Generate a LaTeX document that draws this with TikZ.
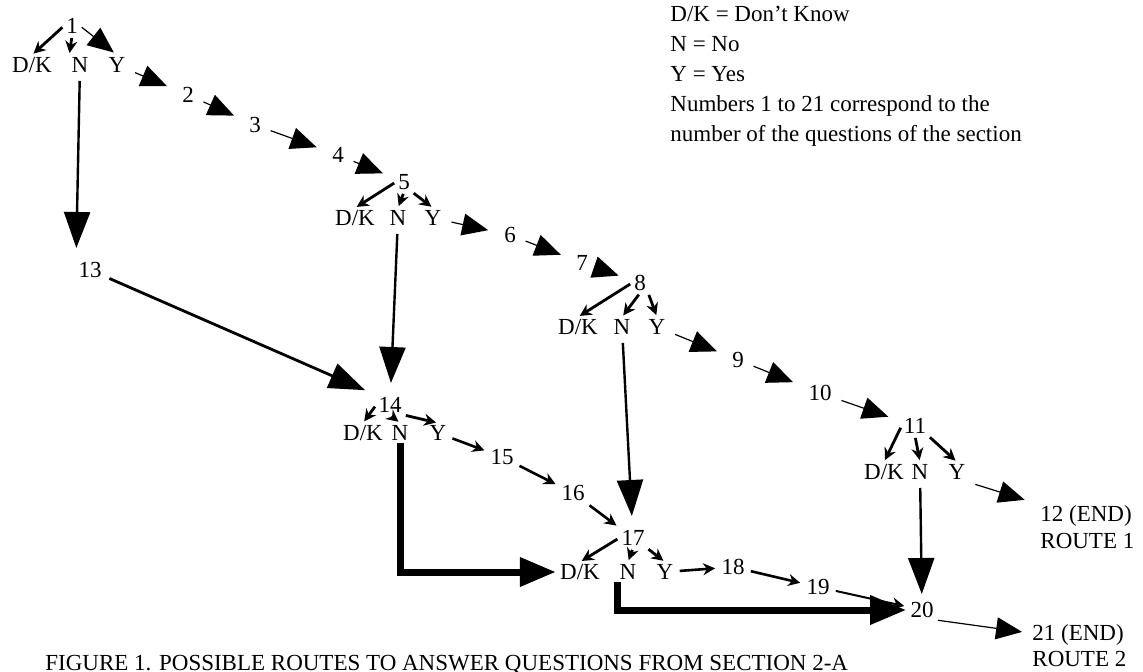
\documentclass[tikz,border=0pt]{standalone}
\usepackage{fontspec}
\setmainfont{Liberation Serif}
\usepackage{tikz}
\usetikzlibrary{arrows.meta}

\begin{document}
\begin{tikzpicture}[
  x=0.5pt, y=-0.5pt,
  qst/.style={font=\fontsize{11.5}{14}\selectfont, text height=7.6pt, text depth=0pt, inner sep=1pt},
  ans/.style={qst},
  txt/.style={font=\fontsize{11.5}{15}\selectfont, align=left, inner sep=0pt},
  pick/.style={-{Stealth[length=6pt,width=6pt]}, line width=1.4pt, shorten <=1pt, shorten >=1pt},
  ylink/.style={-{Triangle[length=13pt,width=11pt]}, line width=0.6pt, shorten <=4pt, shorten >=7pt},
  nlink/.style={-{Triangle[length=18pt,width=13pt]}, line width=1.2pt, shorten <=3pt, shorten >=6pt},
  flow/.style={-{Stealth[length=6pt,width=6pt]}, line width=1.3pt, shorten <=2pt, shorten >=2pt},
  route/.style={-{Triangle[length=18pt,width=14pt]}, line width=3.5pt, shorten >=1pt}
]
  \clip (0,0) rectangle (1143,672);

  \node[txt, anchor=north west] (legend) at (670,6)
    {D/K = Don't Know\\N = No\\Y = Yes\\Numbers 1 to 21 correspond to the\\number of the questions of the section};

  \node[qst] (q1) at (72,26) {1};
  \node[ans] (q1dk) at (32,65) {D/K};
  \node[ans] (q1n) at (80,65) {N};
  \node[ans] (q1y) at (117,65) {Y};

  \node[qst] (q2) at (188,95) {2};
  \node[qst] (q3) at (255,125) {3};
  \node[qst] (q4) at (338,155) {4};

  \node[qst] (q5) at (404,182) {5};
  \node[ans] (q5dk) at (355,218) {D/K};
  \node[ans] (q5n) at (398,218) {N};
  \node[ans] (q5y) at (433,218) {Y};

  \node[qst] (q6) at (510,235) {6};
  \node[qst] (q7) at (582,263) {7};

  \node[qst] (q8) at (640,283) {8};
  \node[ans] (q8dk) at (578,327) {D/K};
  \node[ans] (q8n) at (622,327) {N};
  \node[ans] (q8y) at (657,327) {Y};

  \node[qst] (q9) at (738,360) {9};
  \node[qst] (q10) at (820,393) {10};

  \node[qst] (q11) at (915,426) {11};
  \node[ans] (q11dk) at (884,472) {D/K};
  \node[ans] (q11n) at (920,472) {N};
  \node[ans] (q11y) at (957,472) {Y};

  \node[qst, anchor=west] (q12) at (1038,514) {12 (END)};
  \node[qst, anchor=west] (route1) at (1038,541) {ROUTE 1};

  \node[qst] (q13) at (90,270) {13};

  \node[qst] (q14) at (390,405) {14};
  \node[ans] (q14dk) at (363,433) {D/K};
  \node[ans] (q14n) at (400,433) {N};
  \node[ans] (q14y) at (438,433) {Y};

  \node[qst] (q15) at (502,457) {15};
  \node[qst] (q16) at (573,493) {16};

  \node[qst] (q17) at (633,538) {17};
  \node[ans] (q17dk) at (580,572) {D/K};
  \node[ans] (q17n) at (628,572) {N};
  \node[ans] (q17y) at (665,572) {Y};

  \node[qst] (q18) at (733,567) {18};
  \node[qst] (q19) at (818,587) {19};
  \node[qst] (q20) at (922,610) {20};

  \node[qst, anchor=west] (q21) at (1030,633) {21 (END)};
  \node[qst, anchor=west] (route2) at (1030,659) {ROUTE 2};

  \node[txt, anchor=base west] (caption) at (45,670)
    {FIGURE 1. POSSIBLE ROUTES TO ANSWER QUESTIONS FROM SECTION 2-A};

  % answers to each question
  \draw[pick] (q1.west) -- (q1dk.north);
  \draw[pick] (q1.south) -- (q1n.north west);
  \draw[ylink, shorten <=1pt, shorten >=2pt] (q1.east) -- (q1y.north);
  \foreach \q in {5,8,11,14,17} {
    \draw[pick] (q\q.west) -- (q\q dk.north);
    \draw[pick] (q\q.south) -- (q\q n.north);
    \draw[pick] (q\q.south east) -- (q\q y.north);
  }

  % yes chain
  \draw[ylink] (q1y) -- (q2);
  \draw[ylink] (q2) -- (q3);
  \draw[ylink] (q3) -- (q4);
  \draw[ylink] (q4) -- (q5);
  \draw[ylink] (q5y) -- (q6);
  \draw[ylink] (q6) -- (q7);
  \draw[ylink] (q7) -- (q8);
  \draw[ylink] (q8y) -- (q9);
  \draw[ylink] (q9) -- (q10);
  \draw[ylink] (q10) -- (q11);
  \draw[ylink] (q11y.south east) -- (q12.north west);

  % no branches
  \draw[nlink] (q1n) -- (q13.north west);
  \draw[nlink, line width=1.4pt] (q13) -- (q14.north west);
  \draw[nlink] (q5n) -- (q14);
  \draw[nlink] (q8n) -- (q17);
  \draw[nlink, shorten >=3pt] (q11n) -- (q20);

  \draw[flow] (q14y) -- (q15);
  \draw[flow] (q15) -- (q16);
  \draw[flow] (q16) -- (q17);
  \draw[flow] (q17y) -- (q18);
  \draw[flow] (q18) -- (q19);
  \draw[flow, line width=1pt] (q19) -- (q20);
  \draw[ylink, shorten <=1pt, shorten >=4pt] (q20.south east) -- (q21.west);

  \draw[route] (q14n.south) |- (q17dk.west);
  \draw[route] (q17n.south west) |- (q20.west);
\end{tikzpicture}
\end{document}
